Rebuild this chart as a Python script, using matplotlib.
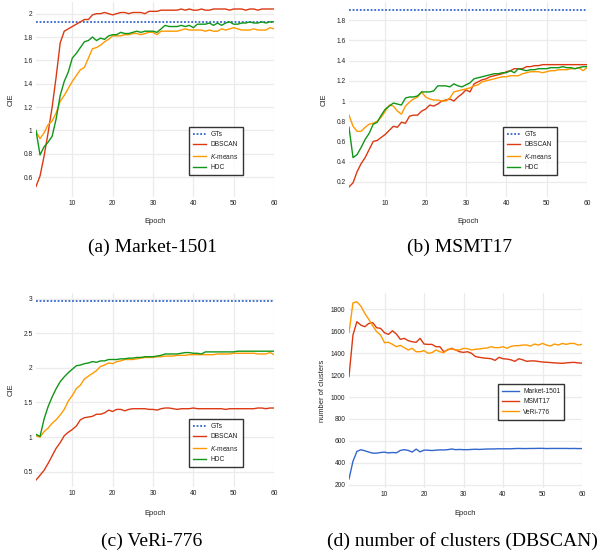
import numpy as np
import matplotlib
matplotlib.use("Agg")
import matplotlib.pyplot as plt
from matplotlib.ticker import FuncFormatter, MultipleLocator

plt.rcParams['font.family'] = ['Liberation Sans', 'DejaVu Sans']
plt.rcParams['mathtext.fontset'] = 'custom'
plt.rcParams['mathtext.it'] = 'Liberation Sans:italic'
plt.rcParams['mathtext.rm'] = 'Liberation Sans'

epochs = np.arange(1, 61)

# (a) Market-1501
market_gt = 1.93
market_dbscan = [0.52, 0.61, 0.78, 0.98, 1.20, 1.46, 1.75, 1.85, 1.87, 1.89,
                 1.91, 1.93, 1.95, 1.95, 1.99, 2.00, 2.00, 2.01, 2.00, 1.99,
                 2.00, 2.01, 2.01, 2.00, 2.01, 2.01, 2.01, 2.00, 2.02, 2.02,
                 2.02, 2.03, 2.03, 2.03, 2.03, 2.03, 2.04, 2.03, 2.04, 2.03,
                 2.03, 2.04, 2.03, 2.03, 2.04, 2.04, 2.04, 2.04, 2.03, 2.04,
                 2.04, 2.04, 2.03, 2.04, 2.04, 2.03, 2.04, 2.04, 2.04, 2.04]
market_kmeans = [0.99, 0.93, 0.98, 1.05, 1.08, 1.15, 1.25, 1.30, 1.36, 1.42,
                 1.47, 1.52, 1.54, 1.62, 1.70, 1.71, 1.73, 1.76, 1.78, 1.81,
                 1.81, 1.81, 1.82, 1.82, 1.83, 1.83, 1.82, 1.83, 1.84, 1.84,
                 1.82, 1.85, 1.85, 1.85, 1.85, 1.85, 1.86, 1.87, 1.86, 1.86,
                 1.86, 1.86, 1.85, 1.86, 1.85, 1.85, 1.87, 1.86, 1.87, 1.88,
                 1.87, 1.86, 1.86, 1.86, 1.87, 1.86, 1.86, 1.86, 1.88, 1.87]
market_hdc = [1.00, 0.79, 0.86, 0.90, 0.95, 1.10, 1.30, 1.42, 1.50, 1.62,
              1.66, 1.71, 1.76, 1.77, 1.80, 1.77, 1.79, 1.78, 1.81, 1.82,
              1.82, 1.84, 1.83, 1.83, 1.84, 1.85, 1.84, 1.85, 1.85, 1.85,
              1.84, 1.87, 1.90, 1.89, 1.89, 1.89, 1.90, 1.89, 1.90, 1.88,
              1.91, 1.91, 1.91, 1.92, 1.90, 1.92, 1.90, 1.92, 1.93, 1.91,
              1.91, 1.92, 1.92, 1.93, 1.92, 1.92, 1.93, 1.92, 1.93, 1.93]

# (b) MSMT17
msmt_gt = 1.905
msmt_dbscan = [0.15, 0.19, 0.30, 0.38, 0.44, 0.52, 0.60, 0.61, 0.64, 0.67,
               0.71, 0.75, 0.74, 0.79, 0.78, 0.85, 0.86, 0.86, 0.90, 0.92,
               0.96, 0.95, 0.97, 1.00, 1.01, 1.02, 1.00, 1.04, 1.07, 1.11,
               1.09, 1.17, 1.19, 1.21, 1.22, 1.24, 1.25, 1.26, 1.27, 1.29,
               1.30, 1.32, 1.32, 1.32, 1.34, 1.34, 1.35, 1.35, 1.36, 1.36,
               1.36, 1.36, 1.36, 1.36, 1.36, 1.36, 1.36, 1.36, 1.36, 1.36]
msmt_kmeans = [0.86, 0.75, 0.70, 0.70, 0.74, 0.77, 0.78, 0.80, 0.84, 0.90,
               0.96, 0.95, 0.90, 0.87, 0.95, 0.99, 1.02, 1.04, 1.09, 1.04,
               1.02, 1.01, 1.01, 1.00, 1.00, 1.03, 1.09, 1.10, 1.11, 1.12,
               1.13, 1.15, 1.16, 1.19, 1.20, 1.21, 1.22, 1.23, 1.24, 1.24,
               1.25, 1.25, 1.25, 1.27, 1.28, 1.29, 1.29, 1.29, 1.28, 1.29,
               1.30, 1.30, 1.31, 1.31, 1.31, 1.32, 1.32, 1.33, 1.30, 1.33]
msmt_hdc = [0.74, 0.44, 0.47, 0.54, 0.62, 0.68, 0.77, 0.79, 0.86, 0.92,
            0.95, 0.98, 0.97, 0.96, 1.03, 1.04, 1.04, 1.05, 1.09, 1.09,
            1.09, 1.10, 1.15, 1.15, 1.15, 1.14, 1.17, 1.15, 1.14, 1.16,
            1.18, 1.22, 1.23, 1.24, 1.25, 1.26, 1.27, 1.27, 1.28, 1.28,
            1.30, 1.28, 1.32, 1.31, 1.30, 1.31, 1.31, 1.32, 1.32, 1.32,
            1.33, 1.33, 1.33, 1.34, 1.33, 1.33, 1.32, 1.33, 1.34, 1.34]

# (c) VeRi-776
veri_gt = 2.96
veri_dbscan = [0.38, 0.45, 0.52, 0.62, 0.73, 0.84, 0.92, 1.02, 1.07, 1.11,
               1.16, 1.25, 1.28, 1.29, 1.30, 1.33, 1.33, 1.35, 1.39, 1.37,
               1.40, 1.40, 1.38, 1.40, 1.41, 1.41, 1.41, 1.41, 1.40, 1.40,
               1.39, 1.41, 1.42, 1.42, 1.41, 1.40, 1.41, 1.41, 1.41, 1.42,
               1.41, 1.41, 1.41, 1.41, 1.41, 1.41, 1.41, 1.40, 1.41, 1.41,
               1.41, 1.41, 1.41, 1.41, 1.41, 1.42, 1.42, 1.41, 1.42, 1.42]
veri_kmeans = [1.02, 1.00, 1.08, 1.13, 1.20, 1.25, 1.32, 1.40, 1.52, 1.60,
               1.70, 1.75, 1.84, 1.88, 1.92, 1.96, 2.02, 2.04, 2.07, 2.06,
               2.09, 2.10, 2.12, 2.12, 2.12, 2.13, 2.14, 2.15, 2.15, 2.15,
               2.16, 2.16, 2.17, 2.17, 2.17, 2.18, 2.18, 2.18, 2.19, 2.19,
               2.19, 2.19, 2.19, 2.19, 2.19, 2.20, 2.20, 2.20, 2.20, 2.21,
               2.21, 2.21, 2.21, 2.21, 2.21, 2.20, 2.20, 2.20, 2.22, 2.19]
veri_hdc = [1.04, 1.01, 1.26, 1.44, 1.58, 1.70, 1.80, 1.87, 1.93, 1.98,
            2.03, 2.04, 2.06, 2.07, 2.09, 2.08, 2.10, 2.10, 2.12, 2.12,
            2.12, 2.13, 2.13, 2.14, 2.14, 2.15, 2.15, 2.16, 2.16, 2.16,
            2.17, 2.18, 2.20, 2.20, 2.20, 2.20, 2.21, 2.22, 2.22, 2.21,
            2.21, 2.20, 2.23, 2.23, 2.23, 2.23, 2.23, 2.23, 2.23, 2.23,
            2.24, 2.24, 2.24, 2.24, 2.24, 2.24, 2.24, 2.24, 2.24, 2.24]

# (d) number of clusters (DBSCAN)
clusters_market = [252, 413, 504, 519, 510, 498, 488, 488, 494, 497,
                   490, 494, 491, 513, 520, 513, 498, 525, 500, 516,
                   515, 512, 515, 518, 517, 520, 526, 520, 522, 520,
                   520, 522, 524, 522, 524, 526, 526, 527, 528, 528,
                   528, 528, 530, 531, 530, 530, 531, 531, 532, 532,
                   530, 531, 531, 531, 531, 531, 530, 531, 530, 530]
clusters_msmt = [1187, 1566, 1688, 1657, 1642, 1672, 1680, 1633, 1627, 1587,
                 1572, 1605, 1575, 1527, 1536, 1515, 1505, 1500, 1536, 1484,
                 1481, 1481, 1460, 1460, 1414, 1430, 1445, 1430, 1414, 1408,
                 1414, 1400, 1370, 1363, 1357, 1354, 1350, 1335, 1363, 1350,
                 1347, 1340, 1326, 1350, 1340, 1326, 1330, 1330, 1325, 1320,
                 1318, 1315, 1312, 1310, 1308, 1312, 1315, 1317, 1312, 1310]
clusters_veri = [1587, 1860, 1870, 1830, 1764, 1710, 1650, 1597, 1566, 1496,
                 1500, 1481, 1460, 1472, 1451, 1430, 1445, 1414, 1414, 1424,
                 1400, 1405, 1430, 1414, 1405, 1436, 1439, 1430, 1430, 1445,
                 1442, 1430, 1436, 1439, 1445, 1448, 1460, 1451, 1451, 1460,
                 1445, 1463, 1469, 1469, 1475, 1475, 1466, 1484, 1475, 1490,
                 1475, 1466, 1484, 1475, 1490, 1481, 1490, 1490, 1475, 1481]

BLUE, RED, ORANGE, GREEN = '#3366cc', '#dc3912', '#ff9900', '#109618'
TXT = '#222222'

fig = plt.figure(figsize=(6.12, 5.52), dpi=100)


def px_axes(l, t, r, b):
    return fig.add_axes([l / 612, 1 - b / 552, (r - l) / 612, (b - t) / 552])


def style(ax, ylim, ystep, ylabel, ylab_x, xlab_y):
    ax.set_xlim(1, 60)
    ax.set_ylim(*ylim)
    ax.xaxis.set_major_locator(MultipleLocator(10))
    ax.yaxis.set_major_locator(MultipleLocator(ystep))
    ax.yaxis.set_major_formatter(FuncFormatter(lambda v, p: '{:g}'.format(round(v, 2))))
    ax.grid(True, color='#ebebeb', linewidth=0.9)
    ax.set_axisbelow(True)
    for s in ax.spines.values():
        s.set_visible(False)
    ax.tick_params(length=0, labelsize=4.8, colors=TXT)
    ax.tick_params(axis='x', pad=2)
    ax.tick_params(axis='y', pad=2.5)
    ax.set_xlabel('Epoch', fontsize=5.4, color=TXT, va='center')
    ax.set_ylabel(ylabel, fontsize=5.4, color=TXT, va='center')
    ax.xaxis.set_label_coords(0.5, xlab_y)
    ax.yaxis.set_label_coords(ylab_x, 0.5)


def cie_panel(ax, gt, db, km, hdc, legend_xy):
    ax.plot(epochs, [gt] * len(epochs), color=BLUE, linestyle=(0, (1, 1)), lw=1.3, label='GTs')
    ax.plot(epochs, db, color=RED, lw=1.0, label='DBSCAN')
    ax.plot(epochs, km, color=ORANGE, lw=1.0, label='$\\it{K}$-means')
    ax.plot(epochs, hdc, color=GREEN, lw=1.0, label='HDC')
    leg = ax.legend(loc='upper left', bbox_to_anchor=(legend_xy[0] / 612, 1 - legend_xy[1] / 552),
                    bbox_transform=fig.transFigure, fontsize=4.8, frameon=True, fancybox=False,
                    handlelength=2.0, handletextpad=0.6, labelspacing=0.5, borderpad=0.6,
                    borderaxespad=0)
    leg.get_frame().set_edgecolor('black')
    leg.get_frame().set_linewidth(1.0)
    for t in leg.get_texts():
        t.set_color(TXT)


ax_a = px_axes(36, 2, 274, 197)
cie_panel(ax_a, market_gt, market_dbscan, market_kmeans, market_hdc, (189, 127))
style(ax_a, (0.43, 2.10), 0.2, 'CIE', -0.105, -0.128)

ax_b = px_axes(349, 2, 587, 197)
cie_panel(ax_b, msmt_gt, msmt_dbscan, msmt_kmeans, msmt_hdc, (503, 127))
style(ax_b, (0.05, 1.98), 0.2, 'CIE', -0.105, -0.128)

ax_c = px_axes(36, 293, 274, 487)
cie_panel(ax_c, veri_gt, veri_dbscan, veri_kmeans, veri_hdc, (189, 419))
style(ax_c, (0.28, 3.08), 0.5, 'CIE', -0.105, -0.139)

ax_d = px_axes(349, 293, 582, 488)
ax_d.plot(epochs, clusters_market, color=BLUE, lw=1.0, label='Market-1501')
ax_d.plot(epochs, clusters_msmt, color=RED, lw=1.0, label='MSMT17')
ax_d.plot(epochs, clusters_veri, color=ORANGE, lw=1.0, label='VeRi-776')
leg = ax_d.legend(loc='upper left', bbox_to_anchor=(498 / 612, 1 - 384 / 552),
                  bbox_transform=fig.transFigure, fontsize=4.8, frameon=True, fancybox=False,
                  handlelength=2.6, handletextpad=0.6, labelspacing=0.5, borderpad=0.6,
                  borderaxespad=0)
leg.get_frame().set_edgecolor('black')
leg.get_frame().set_linewidth(1.0)
for t in leg.get_texts():
    t.set_color(TXT)
style(ax_d, (170, 1950), 200, 'number of clusters', -0.112, -0.133)

captions = [(153, 247, '(a) Market-1501'), (460, 247, '(b) MSMT17'),
            (152, 541, '(c) VeRi-776'), (462, 541, '(d) number of clusters (DBSCAN)')]
for x, y, s in captions:
    fig.text(x / 612, 1 - y / 552, s, ha='center', va='center', fontsize=14,
             family='Liberation Serif', color='black')

fig.savefig('out.png', dpi=100)
